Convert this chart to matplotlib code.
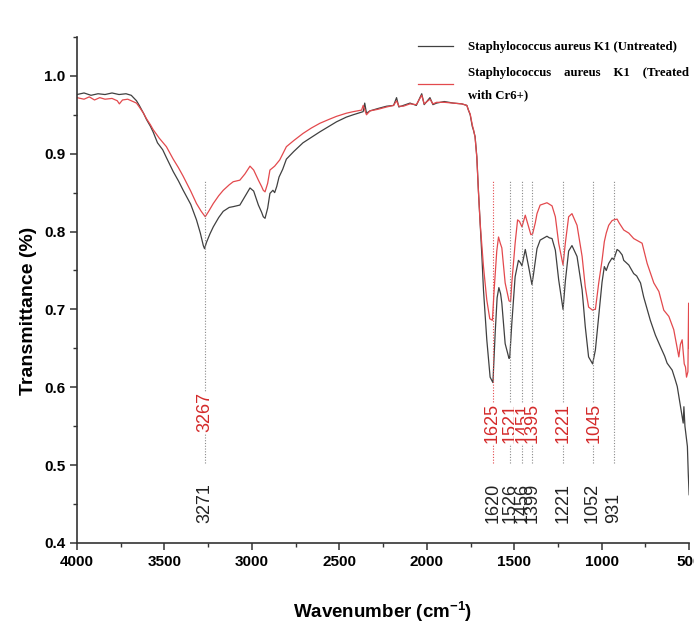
import numpy as np
import matplotlib
matplotlib.use("Agg")
import matplotlib.pyplot as plt
from matplotlib.ticker import MultipleLocator, FormatStrFormatter

# FTIR spectra (wavenumber in cm-1, transmittance)
wn_untreated = [4000, 3960, 3920, 3880, 3840, 3800, 3760, 3720, 3690, 3660, 3644, 3620, 3603, 3580,
                3565, 3540, 3510, 3489, 3450, 3420, 3393, 3350, 3317, 3295, 3278, 3271, 3260, 3240,
                3221, 3190, 3164, 3130, 3107, 3069, 3040, 3011, 2990, 2963, 2945, 2935, 2925, 2910,
                2897, 2880, 2870, 2858, 2845, 2824, 2803, 2760, 2708, 2660, 2612, 2560, 2516, 2460,
                2421, 2364, 2355, 2345, 2325, 2280, 2230, 2190, 2173, 2160, 2134, 2096, 2060, 2029,
                2015, 1982, 1965, 1944, 1900, 1848, 1800, 1771, 1762, 1752, 1740, 1733, 1724, 1714,
                1705, 1695, 1685, 1676, 1657, 1638, 1622, 1609, 1598, 1588, 1578, 1571, 1552, 1530,
                1526, 1514, 1495, 1476, 1465, 1456, 1448, 1437, 1418, 1399, 1390, 1370, 1352, 1313,
                1300, 1284, 1265, 1246, 1221, 1208, 1189, 1170, 1141, 1112, 1094, 1075, 1052, 1036,
                1017, 998, 985, 974, 960, 941, 931, 912, 900, 883, 874, 845, 817, 800, 778, 760, 740,
                722, 693, 664, 640, 626, 597, 580, 568, 549, 534, 530, 524, 510, 505, 500]
t_untreated = [0.976, 0.978, 0.975, 0.977, 0.976, 0.978, 0.976, 0.977, 0.975, 0.968, 0.962, 0.952,
               0.944, 0.935, 0.928, 0.914, 0.905, 0.895, 0.877, 0.865, 0.853, 0.835, 0.815, 0.798,
               0.782, 0.778, 0.786, 0.797, 0.806, 0.818, 0.826, 0.831, 0.832, 0.834, 0.845, 0.856,
               0.852, 0.834, 0.825, 0.819, 0.817, 0.830, 0.849, 0.853, 0.850, 0.858, 0.870, 0.880,
               0.893, 0.903, 0.914, 0.921, 0.928, 0.935, 0.941, 0.947, 0.950, 0.954, 0.965, 0.952,
               0.955, 0.958, 0.961, 0.962, 0.972, 0.960, 0.962, 0.965, 0.962, 0.977, 0.963, 0.972,
               0.963, 0.965, 0.967, 0.965, 0.964, 0.962, 0.956, 0.950, 0.935, 0.930, 0.922, 0.896,
               0.853, 0.811, 0.768, 0.725, 0.661, 0.613, 0.606, 0.670, 0.715, 0.728, 0.720, 0.708,
               0.656, 0.637, 0.638, 0.682, 0.742, 0.763, 0.760, 0.756, 0.765, 0.777, 0.755, 0.732,
               0.745, 0.778, 0.789, 0.794, 0.792, 0.791, 0.776, 0.738, 0.700, 0.736, 0.775, 0.782,
               0.768, 0.725, 0.678, 0.639, 0.630, 0.648, 0.691, 0.735, 0.755, 0.750, 0.759, 0.766,
               0.764, 0.777, 0.775, 0.770, 0.763, 0.757, 0.746, 0.743, 0.734, 0.716, 0.700, 0.686,
               0.667, 0.652, 0.640, 0.631, 0.622, 0.610, 0.601, 0.575, 0.554, 0.575, 0.550, 0.524,
               0.489, 0.462]

wn_treated = [4000, 3960, 3930, 3900, 3870, 3840, 3800, 3770, 3758, 3740, 3710, 3690, 3660, 3644,
              3620, 3603, 3580, 3565, 3530, 3489, 3450, 3420, 3393, 3350, 3317, 3290, 3267, 3250,
              3221, 3190, 3164, 3130, 3107, 3069, 3040, 3011, 2990, 2963, 2945, 2935, 2925, 2910,
              2897, 2870, 2841, 2803, 2760, 2708, 2660, 2612, 2560, 2516, 2460, 2421, 2373, 2364,
              2345, 2325, 2280, 2230, 2190, 2173, 2160, 2134, 2096, 2060, 2029, 2015, 1982, 1965,
              1944, 1900, 1848, 1800, 1771, 1762, 1752, 1740, 1733, 1724, 1714, 1705, 1695, 1685,
              1676, 1657, 1640, 1625, 1615, 1600, 1590, 1580, 1571, 1552, 1530, 1521, 1514, 1495,
              1481, 1470, 1456, 1437, 1418, 1405, 1395, 1380, 1370, 1352, 1313, 1284, 1265, 1246,
              1221, 1208, 1189, 1170, 1141, 1112, 1094, 1075, 1052, 1045, 1036, 1017, 998, 985,
              974, 960, 941, 931, 912, 900, 874, 845, 817, 769, 740, 702, 673, 645, 616, 588, 559,
              550, 540, 528, 521, 515, 507, 503, 500]
t_treated = [0.972, 0.970, 0.973, 0.969, 0.972, 0.970, 0.971, 0.968, 0.964, 0.969, 0.970, 0.968,
             0.965, 0.960, 0.952, 0.945, 0.937, 0.931, 0.920, 0.909, 0.893, 0.882, 0.871, 0.852,
             0.836, 0.826, 0.819, 0.825, 0.836, 0.846, 0.853, 0.860, 0.864, 0.866, 0.874, 0.884,
             0.879, 0.866, 0.858, 0.853, 0.851, 0.862, 0.879, 0.884, 0.892, 0.909, 0.917, 0.926,
             0.933, 0.939, 0.944, 0.948, 0.952, 0.954, 0.956, 0.962, 0.950, 0.955, 0.957, 0.960,
             0.962, 0.968, 0.961, 0.961, 0.964, 0.963, 0.975, 0.964, 0.970, 0.964, 0.966, 0.966,
             0.965, 0.964, 0.962, 0.956, 0.951, 0.937, 0.931, 0.921, 0.895, 0.852, 0.811, 0.781,
             0.755, 0.712, 0.688, 0.686, 0.725, 0.775, 0.793, 0.785, 0.779, 0.734, 0.711, 0.710,
             0.734, 0.785, 0.815, 0.813, 0.806, 0.821, 0.806, 0.796, 0.797, 0.811, 0.823, 0.834,
             0.837, 0.833, 0.819, 0.785, 0.757, 0.785, 0.819, 0.823, 0.808, 0.768, 0.729, 0.703,
             0.699, 0.700, 0.700, 0.734, 0.763, 0.787, 0.798, 0.808, 0.814, 0.815, 0.816, 0.811,
             0.802, 0.798, 0.791, 0.785, 0.759, 0.734, 0.723, 0.699, 0.691, 0.674, 0.639, 0.655,
             0.661, 0.630, 0.626, 0.613, 0.620, 0.708, 0.650]

# peak labels
peaks_untreated = [3271, 1620, 1526, 1456, 1399, 1221, 1052, 931]
peaks_treated = [3267, 1625, 1521, 1451, 1395, 1221, 1045]

BLACK = "#404040"
RED = "#e3494d"

fig = plt.figure(figsize=(6.94, 6.31), dpi=100)
ax = fig.add_axes([0.111, 0.1395, 0.882, 0.802])

ax.plot(wn_untreated, t_untreated, color=BLACK, lw=0.9,
        label="Staphylococcus aureus K1 (Untreated)")
ax.plot(wn_treated, t_treated, color=RED, lw=0.9,
        label="Staphylococcus    aureus    K1    (Treated\nwith Cr6+)")

# dotted guide lines + labels
for p in peaks_untreated:
    c = RED if p == 1620 else "#8a8a8a"
    ax.vlines(p, 0.503, 0.866, colors=c, linestyles=(0, (1, 1.5)), lw=0.8)
    ax.text(p, 0.4254, str(p), rotation=90, ha="center", va="bottom",
            fontsize=13, color="#222222", family="Liberation Sans")
for p in peaks_treated:
    yb = 0.542 if p == 3267 else 0.528
    ax.text(p, yb, str(p), rotation=90, ha="center", va="bottom",
            fontsize=13, color="#d42a2a", family="Liberation Sans",
            bbox=dict(facecolor="white", edgecolor="none", pad=0.3))

ax.set_xlim(4000, 500)
ax.set_ylim(0.4, 1.05)
ax.xaxis.set_major_locator(MultipleLocator(500))
ax.xaxis.set_minor_locator(MultipleLocator(250))
ax.yaxis.set_major_locator(MultipleLocator(0.1))
ax.yaxis.set_minor_locator(MultipleLocator(0.05))
ax.yaxis.set_major_formatter(FormatStrFormatter("%.1f"))

for s in ["top", "right"]:
    ax.spines[s].set_visible(False)
for s in ["left", "bottom"]:
    ax.spines[s].set_linewidth(1.2)
    ax.spines[s].set_color("#333333")
ax.tick_params(which="major", direction="out", length=5, width=1.1, color="#333333")
ax.tick_params(which="minor", direction="out", length=3, width=1.0, color="#333333")

tick_font = ["Liberation Sans Narrow", "Liberation Sans"]
for lab in ax.get_xticklabels() + ax.get_yticklabels():
    lab.set_family(tick_font)
    lab.set_fontweight("bold")
    lab.set_fontsize(11)

ax.set_xlabel("Wavenumber (cm$^{\\mathregular{-1}}$)", fontsize=13.5, fontweight="bold",
              family=tick_font, labelpad=22)
ax.set_ylabel("Transmittance (%)", fontsize=14, fontweight="bold",
              family="Liberation Sans")
ax.yaxis.set_label_coords(-0.066, 0.458)

leg = fig.legend(loc="upper left", bbox_to_anchor=(418 / 694, 1 - 41 / 631),
                 frameon=False, borderpad=0, borderaxespad=0, handlelength=2.7,
                 handletextpad=1.2, labelspacing=1.1,
                 prop=dict(family="Liberation Serif", weight="bold", size=9.2))
leg.get_texts()[1].set_linespacing(2.1)

fig.savefig("out.png", dpi=100, facecolor="white")
